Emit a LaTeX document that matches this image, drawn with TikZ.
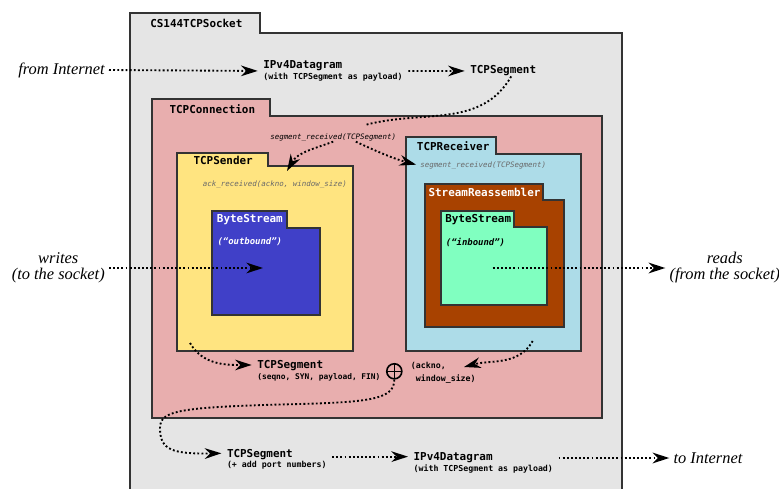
\documentclass[tikz,border=0pt]{standalone}
\usepackage{fontspec}
\setmonofont{DejaVu Sans Mono}
\newfontfamily\outsidefont{Liberation Serif}
\usetikzlibrary{arrows.meta}
\definecolor{socketgray}{RGB}{229,229,229}
\definecolor{connpink}{RGB}{232,174,174}
\definecolor{sendyellow}{RGB}{255,228,128}
\definecolor{recvblue}{RGB}{173,220,232}
\definecolor{reasmbrown}{RGB}{168,66,0}
\definecolor{outblue}{RGB}{64,64,200}
\definecolor{inmint}{RGB}{128,255,192}
\definecolor{callgray}{RGB}{105,105,105}
\tikzset{
  box/.style={draw=black!80, line width=0.9pt},
  title/.style={anchor=west, inner sep=0pt, font=\ttfamily\bfseries\fontsize{8.2}{9}\selectfont},
  pkt/.style={anchor=north west, align=left, inner xsep=4pt, inner ysep=0pt, font=\ttfamily\bfseries\fontsize{6.2}{8}\selectfont},
  call/.style={anchor=west, inner sep=0pt, font=\ttfamily\itshape\fontsize{5.6}{6}\selectfont},
  outside/.style={align=center, inner xsep=3pt, font=\outsidefont\itshape\fontsize{12.3}{12}\selectfont},
  flow/.style={line width=1.4pt, dash pattern=on 1.4pt off 1.7pt, -{Stealth[length=12.5pt, width=8pt, inset=4pt]}},
  plusmark/.style={circle, draw, line width=1.2pt, minimum size=11.3pt, inner sep=0pt,
    path picture={\draw [line width=1.2pt] (path picture bounding box.north) -- (path picture bounding box.south)
      (path picture bounding box.west) -- (path picture bounding box.east);}}
}
\newcommand{\pkthead}[1]{{\fontsize{8.2}{8}\selectfont #1}}

\begin{document}
\begin{tikzpicture}[x=0.75pt, y=-0.75pt]
  \useasboundingbox (0, 0) rectangle (779, 489);

  \draw [box, line width=1.2pt, fill=socketgray] (130, 13) -- (260, 13) -- (260, 33) -- (622, 33) -- (622, 500) -- (130, 500) -- cycle;
  \draw [box, fill=connpink] (152, 99) -- (270, 99) -- (270, 116) -- (602, 116) -- (602, 418) -- (152, 418) -- cycle;
  \draw [box, fill=sendyellow] (177, 153) -- (268, 153) -- (268, 166) -- (353, 166) -- (353, 351) -- (177, 351) -- cycle;
  \draw [box, fill=outblue] (212, 211) -- (287, 211) -- (287, 228) -- (320, 228) -- (320, 315) -- (212, 315) -- cycle;
  \draw [box, fill=recvblue] (406, 137) -- (496, 137) -- (496, 154) -- (581, 154) -- (581, 351) -- (406, 351) -- cycle;
  \draw [box, fill=reasmbrown] (425, 184) -- (543, 184) -- (543, 200) -- (564, 200) -- (564, 327) -- (425, 327) -- cycle;
  \draw [box, fill=inmint] (441, 211) -- (514, 211) -- (514, 227) -- (547, 227) -- (547, 305) -- (441, 305) -- cycle;

  \node [title] (sockt) at (150, 23) {CS144TCPSocket};
  \node [title] (conn) at (169.3, 109) {TCPConnection};
  \node [title] (sender) at (193.3, 160) {TCPSender};
  \node [title, white] (outbs) at (216.7, 220) {ByteStream};
  \node [title, white, font=\ttfamily\bfseries\itshape\fontsize{6.7}{8}\selectfont] (outlbl) at (217.3, 242) {(“outbound”)};
  \node [title] (recv) at (416.7, 146.5) {TCPReceiver};
  \node [title, white] (reasm) at (428.3, 192.3) {StreamReassembler};
  \node [title] (inbs) at (445, 220) {ByteStream};
  \node [title, font=\ttfamily\bfseries\itshape\fontsize{6.7}{8}\selectfont] (inlbl) at (445.7, 242) {(“inbound”)};

  \node [outside, anchor=east] (inet) at (109, 70) {from Internet};
  \node [pkt] (ipin) at (257.7, 60.5) {\pkthead{IPv4Datagram}\\(with TCPSegment as payload)};
  \node [pkt] (segin) at (464.7, 65.5) {\pkthead{TCPSegment}};
  \node [call] (segrec) at (270, 137.7) {segment\_received(TCPSegment)};
  \node [call, callgray] (ackrx) at (202.7, 184.3) {ack\_received(ackno, window\_size)};
  \node [call, callgray] (recrx) at (420, 165.7) {segment\_received(TCPSegment)};

  \node [outside, anchor=east] (writes) at (109, 268) {writes\\(to the socket)};
  \node [outside, anchor=west] (reads) at (665.3, 268) {reads\\(from the socket)};

  \node [pkt, font=\ttfamily\bfseries\fontsize{5.9}{8}\selectfont] (segout) at (251.7, 360.5) {\pkthead{TCPSegment}\\(seqno, SYN, payload, FIN)};
  \node [plusmark] (plus) at (394.3, 371.3) {};
  \node [pkt, inner xsep=0pt, font=\ttfamily\bfseries\fontsize{6.2}{9.5}\selectfont] (ackwin) at (410.7, 362) {(ackno,\\\hphantom{(}window\_size)};
  \node [pkt] (portseg) at (221.4, 448.8) {\pkthead{TCPSegment}\\(+ add port numbers)};
  \node [pkt] (ipout) at (408, 452.2) {\pkthead{IPv4Datagram}\\(with TCPSegment as payload)};
  \node [outside, anchor=west] (tonet) at (669.3, 458) {to Internet};

  \coordinate (segtop) at (365, 125);
  \coordinate (acktip) at (287, 171);
  \coordinate (outbuf) at (263, 268);
  \coordinate (inbuf) at (492.7, 268);
  \coordinate (sendout) at (190, 343);
  \coordinate (recvout) at (532.7, 341);
  \coordinate (ackin) at (464, 367);

  \draw [flow] (inet.east) -- (ipin.west);
  \draw [flow] (ipin.east) -- (segin.west);
  \draw [flow, -] ([xshift=6pt]segin.south) to [out=-120, in=15] (segtop);
  \draw [flow] (segrec.south) to [out=200, in=60] (acktip);
  \draw [flow, shorten >=3pt] ([xshift=17pt]segrec.south) to [out=-25, in=165] (recrx.west);
  \draw [flow] (writes.east) -- (outbuf);
  \draw [flow] (inbuf) -- (reads.west);
  \draw [flow] (sendout) to [out=-60, in=180] ([yshift=4.5pt]segout.west);
  \draw [flow] (recvout) to [out=-120, in=15] (ackin);
  \draw [flow] (plus.south) .. controls (394, 398) and (375, 402) .. (300, 404) .. controls (180, 407) and (160, 410) .. (160, 428) .. controls (160, 450) and (172, 454) .. ([yshift=4.5pt]portseg.west);
  \draw [flow] ([yshift=4.5pt]ipout.west -| portseg.east) -- ([yshift=4.5pt]ipout.west);
  \draw [flow] (ipout.east |- tonet.west) -- (tonet.west);
\end{tikzpicture}
\end{document}
